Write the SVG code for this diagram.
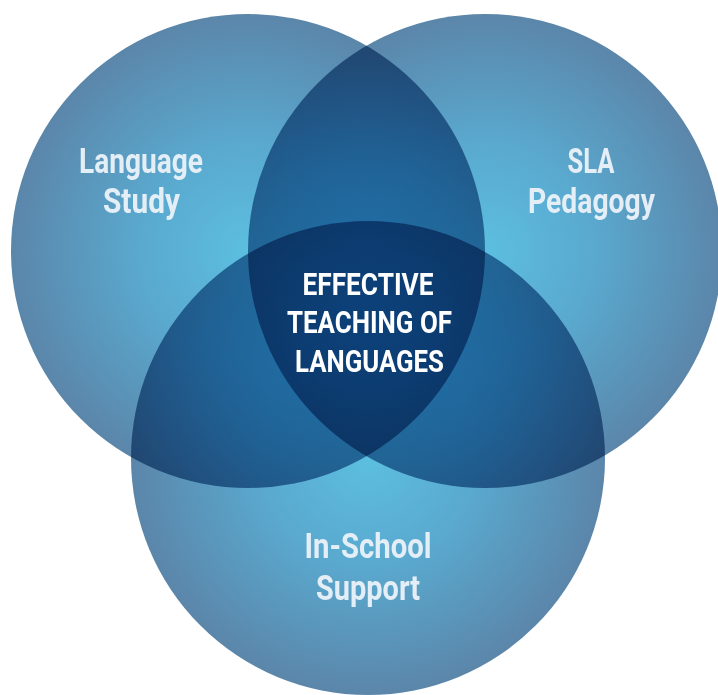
<svg xmlns="http://www.w3.org/2000/svg" width="718" height="695" viewBox="0 0 718 695">
<style>
.c{mix-blend-mode:multiply}
.lbl{font-family:Roboto,"Liberation Sans",sans-serif;font-weight:bold;font-size:35px;fill:#e4eef6;text-anchor:middle}
.ctr{font-family:Roboto,"Liberation Sans",sans-serif;font-weight:bold;font-size:32px;fill:#ffffff;text-anchor:middle}
</style>
<defs>
<radialGradient id="g" cx="0.5" cy="0.5" r="0.5">
<stop offset="0" stop-color="#5cbfe0"/>
<stop offset="0.45" stop-color="#5aa9cf"/>
<stop offset="1" stop-color="#5b86aa"/>
</radialGradient>
</defs>
<rect width="718" height="695" fill="#ffffff"/>
<g style="isolation:isolate">
<g id="language-study"><circle class="c" cx="248" cy="251" r="237" fill="url(#g)"/></g>
<g id="sla-pedagogy"><circle class="c" cx="485" cy="251" r="237" fill="url(#g)"/></g>
<g id="in-school-support"><circle class="c" cx="368" cy="458" r="237" fill="url(#g)"/></g>
</g>
<g id="labels">
<text class="lbl" x="141" y="173" textLength="124" lengthAdjust="spacingAndGlyphs">Language</text>
<text class="lbl" x="141.5" y="213" textLength="77" lengthAdjust="spacingAndGlyphs">Study</text>
<text class="lbl" x="591" y="173" textLength="47" lengthAdjust="spacingAndGlyphs">SLA</text>
<text class="lbl" x="591.5" y="213" textLength="127" lengthAdjust="spacingAndGlyphs">Pedagogy</text>
<text class="lbl" x="368" y="558" textLength="127" lengthAdjust="spacingAndGlyphs">In-School</text>
<text class="lbl" x="368" y="600" textLength="104" lengthAdjust="spacingAndGlyphs">Support</text>
</g>
<g id="effective-teaching">
<text class="ctr" x="368" y="295" textLength="131" lengthAdjust="spacingAndGlyphs">EFFECTIVE</text>
<text class="ctr" x="369.5" y="333" textLength="165" lengthAdjust="spacingAndGlyphs">TEACHING OF</text>
<text class="ctr" x="369.5" y="372" textLength="149" lengthAdjust="spacingAndGlyphs">LANGUAGES</text>
</g>
</svg>
